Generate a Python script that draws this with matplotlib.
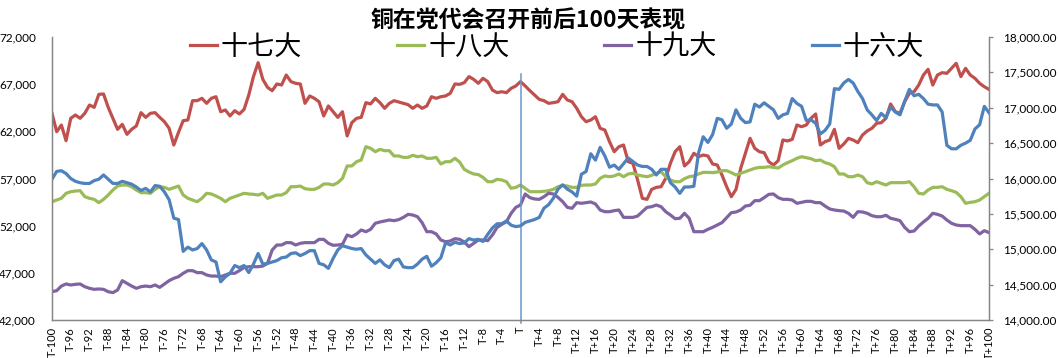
import matplotlib
matplotlib.use("Agg")
import matplotlib.pyplot as plt
from matplotlib.font_manager import FontProperties
from matplotlib.ticker import StrMethodFormatter


TITLE = "铜在党代会召开前后100天表现"

# trading days relative to the congress opening day (T)
days = list(range(-100, 101))
categories = ["T" if d == 0 else f"T{d:+d}" for d in days]

# 十七大 (2007), yuan/t, left axis
congress_17 = [
    63910, 61960, 62670, 61010, 63380, 63730, 63380, 63910, 64790, 64540,
    65920, 65960, 64540, 63380, 62210, 62740, 61680, 62210, 62570, 63980,
    63480, 63910, 63980, 63480, 63020, 62320, 60550, 61890, 63130, 63200,
    65250, 65250, 65500, 64970, 65500, 65670, 64080, 64260, 63630, 64190,
    63840, 64330, 65850, 67800, 69280, 67510, 66660, 66310, 67020, 66910,
    67970, 67270, 67090, 67020, 64970, 65750, 65500, 65140, 63630, 64690,
    64080, 63480, 64080, 61510, 62920, 63380, 63480, 65040, 64900, 65500,
    65040, 64440, 64970, 65250, 65110, 64970, 64830, 64440, 64790, 64440,
    64690, 65670, 65500, 65670, 65750, 66030, 67020, 66980, 67160, 67800,
    67510, 67090, 67620, 67270, 66380, 66100, 66200, 66100, 66560, 66810,
    67270,
    66810, 66310, 65850, 65390, 65250, 64970, 65040, 65140, 65920, 65320,
    65140, 64440, 63550, 63020, 63200, 63550, 62320, 62140, 60900, 59840,
    60370, 60550, 58780, 58610, 56840, 54900, 54790, 55850, 56060, 56130,
    57020, 58610, 59840, 60370, 58330, 58780, 59670, 59310, 59490, 59390,
    58540, 58430, 57370, 56130, 55070, 55850, 58080, 59670, 61260, 60200,
    59840, 59740, 58780, 58430, 58890, 61080, 60980, 61150, 62670, 62490,
    62670, 63380, 63840, 60550, 60900, 61080, 62210, 60200, 60660, 61260,
    61080, 60800, 61610, 62040, 62320, 62850, 62920, 63380, 64900, 64080,
    63910, 65140, 66030, 66200, 66910, 67970, 68570, 66910, 67970, 68220,
    68150, 68680, 69210, 67800, 68680, 67970, 67620, 67090, 66730, 66450,
]

# 十八大 (2012), yuan/t, left axis
congress_18 = [
    54540, 54720, 54900, 55430, 55600, 55670, 55710, 55070, 54900, 54790,
    54440, 54790, 55250, 55780, 56200, 56310, 56310, 56130, 55780, 55500,
    55500, 55430, 55850, 56130, 56060, 55850, 56030, 56200, 55250, 54900,
    54720, 54540, 54900, 55430, 55360, 55140, 54900, 54540, 54900, 55070,
    55250, 55430, 55360, 55320, 55250, 55430, 54900, 55070, 55250, 55250,
    55500, 56130, 56130, 56200, 55920, 55850, 55850, 56060, 56420, 56420,
    56310, 56560, 57020, 58330, 58330, 58780, 58960, 60370, 60200, 59840,
    60090, 59950, 59950, 59390, 59390, 59240, 59240, 59460, 59310, 59390,
    59140, 59140, 59240, 58540, 58780, 58780, 59140, 58750, 57970, 57690,
    57480, 57410, 57120, 56660, 56660, 56910, 56840, 56660, 55960, 56060,
    56310,
    55960, 55600, 55600, 55600, 55640, 55710, 55850, 56130, 56280, 56200,
    56060, 56060, 56280, 56310, 56310, 56420, 57020, 57270, 57190, 57270,
    57480, 57190, 57480, 57550, 57370, 57270, 57190, 57340, 57550, 57720,
    57190, 56840, 56660, 56660, 56980, 57190, 57270, 57480, 57650, 57650,
    57620, 57690, 57830, 57830, 57620, 57370, 57550, 57720, 57900, 58080,
    58180, 58180, 58250, 58180, 58110, 58430, 58680, 58890, 59140, 59310,
    59210, 59100, 58890, 58960, 58680, 58540, 58250, 57480, 57480, 57190,
    57190, 57370, 57190, 56560, 56420, 56660, 56490, 56310, 56560, 56560,
    56560, 56560, 56660, 56130, 55430, 55360, 55780, 56060, 56060, 56130,
    55850, 55710, 55530, 55070, 54370, 54470, 54540, 54720, 55070, 55430,
]

# 十九大 (2017), yuan/t, left axis
congress_19 = [
    45000, 45110, 45600, 45820, 45710, 45780, 45820, 45530, 45360, 45250,
    45290, 45250, 45000, 44900, 45180, 46170, 45890, 45600, 45360, 45530,
    45600, 45530, 45710, 45460, 45820, 46170, 46420, 46590, 46950, 47230,
    47230, 47020, 47020, 46770, 46660, 46660, 46590, 46770, 46950, 46950,
    47230, 47580, 47650, 47650, 47650, 47720, 48010, 49420, 49950, 49950,
    50200, 50200, 49950, 50130, 50200, 50200, 50200, 50550, 50550, 50130,
    49920, 49950, 50020, 51010, 50830, 51120, 51540, 51360, 51610, 52250,
    52390, 52490, 52600, 52530, 52640, 52880, 53200, 53130, 52950, 52320,
    51360, 51360, 51120, 50480, 50300, 50370, 50620, 50550, 50270, 49770,
    50130, 50480, 50480, 50410, 51010, 51820, 52140, 52420, 53310, 53940,
    54190,
    55360, 54970, 54830, 54790, 55070, 55430, 55360, 55000, 54540, 53940,
    53840, 54440, 54370, 54440, 54510, 54300, 53660, 53480, 53480, 53590,
    53660, 52880, 52880, 52880, 53020, 53480, 53940, 54010, 54190, 54010,
    53480, 53130, 52740, 52780, 53310, 52780, 51360, 51360, 51360, 51610,
    51820, 52070, 52320, 52850, 53380, 53450, 53660, 54080, 54160, 54650,
    54650, 54970, 55320, 55360, 54970, 54790, 54790, 54720, 54370, 54470,
    54580, 54580, 54440, 54440, 54080, 53770, 53660, 53590, 53550, 53310,
    52880, 53480, 53450, 53310, 53060, 52950, 52950, 53100, 52780, 52670,
    52530, 51820, 51360, 51430, 51960, 52390, 52780, 53310, 53200, 53020,
    52600, 52250, 52070, 52000, 52000, 52000, 51610, 51120, 51470, 51260,
]

# 十六大 (2002), yuan/t, right axis
congress_16 = [
    15990, 16100, 16110, 16070, 16000, 15960, 15940, 15930, 15930, 15970,
    15990, 16050, 15990, 15930, 15930, 15960, 15940, 15920, 15880, 15830,
    15860, 15810, 15900, 15890, 15810, 15700, 15440, 15420, 14970, 15030,
    14990, 15010, 15080, 14990, 14850, 14820, 14540, 14610, 14660, 14770,
    14740, 14770, 14670, 14790, 14940, 14790, 14800, 14820, 14840, 14880,
    14890, 14940, 14950, 14910, 14940, 14980, 14980, 14800, 14780, 14730,
    14870, 14990, 15050, 15030, 15010, 15000, 15010, 14920, 14860, 14800,
    14850, 14780, 14740, 14840, 14860, 14750, 14740, 14740, 14790, 14860,
    14900, 14760, 14810, 14880, 15090, 15060, 15100, 15080, 15090, 15150,
    15130, 15140, 15110, 15210, 15300, 15360, 15360, 15400, 15340, 15320,
    15330,
    15380, 15400, 15420, 15450, 15580, 15630, 15720, 15850, 15910, 15850,
    15810, 15750, 16060, 16100, 16350, 16260, 16440, 16320, 16160, 16190,
    16130, 16210, 16290, 16240, 16190, 16170, 16170, 16130, 16050, 16130,
    16130, 15940, 15880, 15790, 15880, 15880, 15890, 16360, 16590, 16510,
    16620, 16850, 16830, 16710, 16770, 16970, 16850, 16790, 16800, 17050,
    17010, 17070, 17020, 16970, 16850, 16900, 16920, 17130, 17060, 17020,
    16820, 16830, 16780, 16630, 16680, 16770, 17270, 17260, 17350, 17400,
    17350, 17230, 17130, 16970, 16900, 16820, 16920, 16860, 17010, 16940,
    16900, 17090, 17260, 17170, 17190, 17130, 17050, 17040, 17040, 16940,
    16470, 16420, 16420, 16470, 16500, 16540, 16700, 16760, 17020, 16930,
]

left_ticks = list(range(42000, 72001, 5000))
right_ticks = list(range(14000, 18001, 500))

RED = "#C0504D"
GREEN = "#9BBB59"
PURPLE = "#8064A2"
BLUE = "#4F81BD"
AXIS_GREY = "#868686"

plt.rcParams["font.family"] = ["Lato", "Noto Sans CJK SC", "DejaVu Sans"]
cjk = ["Noto Sans CJK SC", "DejaVu Sans"]

fig = plt.figure(figsize=(10.58, 3.58), dpi=100)
ax = fig.add_axes([52 / 1058, 1 - 320 / 358, 937 / 1058, 283 / 358])
ax2 = ax.twinx()

x = range(len(categories))
l17, = ax.plot(x, congress_17, color=RED, linewidth=2.3, label="十七大")
l18, = ax.plot(x, congress_18, color=GREEN, linewidth=2.3, label="十八大")
l19, = ax.plot(x, congress_19, color=PURPLE, linewidth=2.3, label="十九大")
l16, = ax2.plot(x, congress_16, color=BLUE, linewidth=2.3, label="十六大")

# marker line at the opening day
t_pos = categories.index("T")
ax.axvline(t_pos, ymin=-0.012, ymax=0.87, color="#6A96CE", linewidth=1.1, clip_on=False)

ax.set_xlim(0, len(categories) - 1)
ax.set_ylim(left_ticks[0], left_ticks[-1])
ax2.set_ylim(right_ticks[0], right_ticks[-1])

tick_pos = list(range(0, len(categories), 4))
ax.set_xticks(tick_pos, [categories[i] for i in tick_pos])
ax.tick_params(axis="x", length=0, pad=5, labelsize=8, labelrotation=90)
ax.set_yticks(left_ticks)
ax.yaxis.set_major_formatter(StrMethodFormatter("{x:,.0f}"))
ax.tick_params(axis="y", length=0, pad=11.5, labelsize=8.5)
ax2.set_yticks(right_ticks)
ax2.yaxis.set_major_formatter(StrMethodFormatter("{x:,.2f}"))
ax2.tick_params(axis="y", length=3, width=0.9, color=AXIS_GREY, pad=7, labelsize=8.5)

for a in (ax, ax2):
    a.spines["top"].set_visible(False)
    for side in ("left", "right", "bottom"):
        a.spines[side].set_color(AXIS_GREY)
        a.spines[side].set_linewidth(0.9)

fig.text(0.499, 1 - 21 / 358, TITLE, ha="center", va="center", fontsize=16.5,
         fontweight="bold", family=cjk)

fig.legend([l17, l18, l19, l16], ["十七大", "十八大", "十九大", "十六大"],
           loc="center", bbox_to_anchor=(557 / 1058, 1 - 47 / 358), ncol=4,
           frameon=False, prop=FontProperties(family=cjk, size=19.5),
           handlelength=1.0, handletextpad=0.15, columnspacing=3.5,
           borderpad=0, borderaxespad=0)

fig.savefig("out.png", dpi=100)
